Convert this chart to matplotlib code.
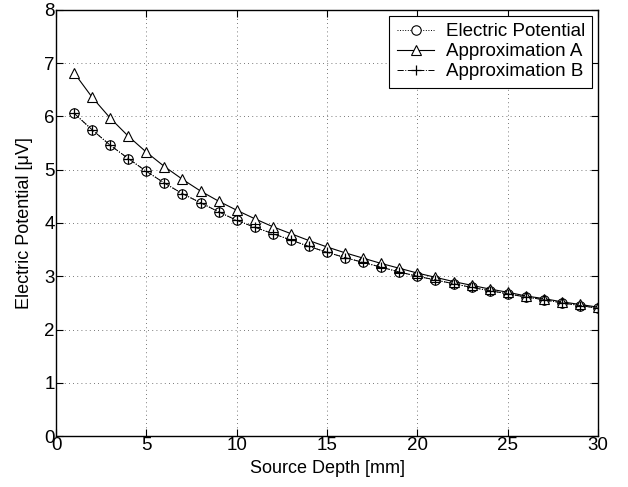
import matplotlib
matplotlib.use("Agg")
import matplotlib.pyplot as plt

depth = list(range(1, 31))
electric_potential = [6.06, 5.75, 5.46, 5.21, 4.97, 4.75, 4.55, 4.38, 4.21, 4.05,
                      3.92, 3.80, 3.68, 3.56, 3.45, 3.35, 3.26, 3.17, 3.08, 3.00,
                      2.93, 2.86, 2.79, 2.73, 2.67, 2.61, 2.56, 2.50, 2.45, 2.40]
approx_a = [6.82, 6.36, 5.97, 5.63, 5.33, 5.06, 4.82, 4.60, 4.41, 4.24,
            4.08, 3.93, 3.80, 3.67, 3.55, 3.44, 3.34, 3.24, 3.15, 3.06,
            2.98, 2.90, 2.83, 2.76, 2.70, 2.63, 2.58, 2.52, 2.47, 2.42]
approx_b = [6.06, 5.75, 5.46, 5.21, 4.97, 4.75, 4.55, 4.38, 4.21, 4.05,
            3.92, 3.80, 3.68, 3.56, 3.45, 3.35, 3.26, 3.17, 3.08, 3.00,
            2.93, 2.86, 2.79, 2.73, 2.67, 2.61, 2.56, 2.50, 2.45, 2.40]
xticks = [0, 5, 10, 15, 20, 25, 30]
yticks = [0, 1, 2, 3, 4, 5, 6, 7, 8]

plt.rcParams['font.family'] = ['Liberation Sans', 'DejaVu Sans']

fig = plt.figure(figsize=(6.28, 4.87), dpi=100)
ax = fig.add_axes([0.0892, 0.1047, 0.8631, 0.8748])

ax.plot(depth, electric_potential, linestyle=':', color='black', linewidth=0.7,
        marker='o', markersize=6.8, markerfacecolor='white', markeredgecolor='black',
        markeredgewidth=0.8, label='Electric Potential')
ax.plot(depth, approx_a, linestyle='-', color='black', linewidth=0.8,
        marker='^', markersize=7.5, markerfacecolor='white', markeredgecolor='black',
        markeredgewidth=0.8, label='Approximation A')
ax.plot(depth, approx_b, linestyle='-.', color='black', linewidth=0.7,
        marker='+', markersize=7, markeredgecolor='black',
        markeredgewidth=0.9, label='Approximation B')

ax.set_xlim(0, 30)
ax.set_ylim(0, 8)
ax.set_xticks(xticks)
ax.set_yticks(yticks)
ax.tick_params(direction='in', top=True, right=True, labelsize=13.5, length=5,
               width=0.8, pad=1)
ax.grid(True, linestyle=(0, (1, 4)), color='black', linewidth=0.6, alpha=0.7)
for s in ax.spines.values():
    s.set_linewidth(1.0)

ax.set_xlabel('Source Depth [mm]', fontsize=13, labelpad=4)
ax.set_ylabel('Electric Potential [μV]', fontsize=13, labelpad=8)

leg = ax.legend(loc='upper right', fontsize=13.5, frameon=True, fancybox=False,
                edgecolor='black', framealpha=1, borderpad=0.4, labelspacing=0.15,
                handlelength=2.0, handletextpad=0.6, borderaxespad=0.3)
leg.get_frame().set_linewidth(0.8)

fig.savefig('out.png', dpi=100)
